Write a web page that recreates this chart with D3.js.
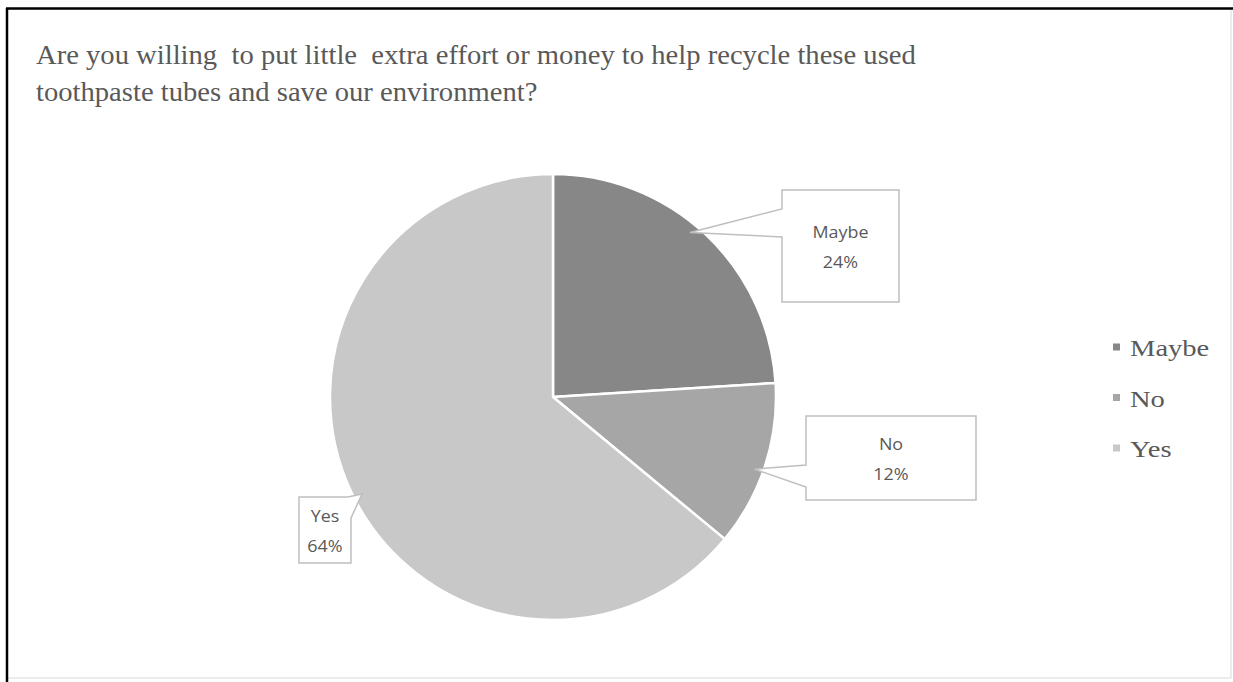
<!DOCTYPE html>
<html>
<head>
<meta charset="utf-8">
<script src="https://cdn.jsdelivr.net/npm/d3@7/dist/d3.min.js"></script>
<style>
  body { margin: 0; background: #fff; }
  svg { display: block; }
</style>
</head>
<body>
<div id="chart"></div>
<script>
(function(){
  'use strict';

  // data
  var categories = ['Maybe', 'No', 'Yes'];
  var values = [24, 12, 64];
  var colors = ['#878787', '#a6a6a6', '#c8c8c8'];
  var titleLines = [
    'Are you willing  to put little  extra effort or money to help recycle these used',
    'toothpaste tubes and save our environment?'
  ];

  var W = 1233, H = 682,
      cx = 553, cy = 397, r = 223,
      stretch = 1.19;   // the source text is drawn a bit wide

  var svg = d3.select('#chart').append('svg')
    .attr('width', W)
    .attr('height', H);

  // frame
  svg.append('rect')
    .attr('x', 7).attr('y', 9)
    .attr('width', 1224).attr('height', 669)
    .style('fill', '#fff')
    .style('stroke', '#d9d9d9')
    .style('stroke-width', 1);
  svg.append('line')
    .attr('x1', 6).attr('y1', 8.5).attr('x2', W).attr('y2', 8.5)
    .style('stroke', '#000').style('stroke-width', 2.5);
  svg.append('line')
    .attr('x1', 7).attr('y1', 8).attr('x2', 7).attr('y2', H)
    .style('stroke', '#000').style('stroke-width', 2.5);

  // title
  svg.append('g').selectAll('text')
    .data(titleLines)
    .enter()
    .append('text')
    .attr('transform', function(d, i) { return 'translate(36,' + (64 + i * 37) + ') scale(1.06,1)'; })
    .style('font-family', '"Liberation Serif", "Times New Roman", serif')
    .style('font-size', '27px')
    .style('fill', '#595959')
    .style('white-space', 'pre')
    .text(function(d) { return d; });

  var data = categories.map(function(c, i) { return {name: c, value: values[i], color: colors[i]}; });

  var pie = d3.pie()
    .sort(null)
    .value(function(d) { return d.value; });

  var arc = d3.arc().innerRadius(0).outerRadius(r);
  var tipArc = d3.arc().innerRadius(r * 0.96).outerRadius(r * 0.96);

  var arcs = pie(data);

  var g = svg.append('g')
    .attr('transform', 'translate(' + cx + ',' + cy + ')');

  g.selectAll('.slice')
    .data(arcs)
    .enter()
    .append('path')
    .attr('class', 'slice')
    .attr('d', arc)
    .style('fill', function(d) { return d.data.color; })
    .style('stroke', '#fff')
    .style('stroke-width', 2.5)
    .style('stroke-linejoin', 'round');

  // callout boxes, relative to pie centre
  var boxes = {
    'Maybe': {x: 229, y: -207, w: 117, h: 112, side: 'left', n0: 19, n1: 47, turn: -0.06},
    'No':    {x: 253, y: 19,   w: 170, h: 84,  side: 'left', n0: 49, n1: 71, turn: 0.03},
    'Yes':   {x: -254, y: 100, w: 52,  h: 66,  side: 'topright', n0: 49, n1: 21, turn: -0.03}
  };

  function tipPoint(d) {
    var b = boxes[d.data.name],
        a = (d.startAngle + d.endAngle) / 2 + b.turn;
    return tipArc.centroid({startAngle: a, endAngle: a});
  }

  function calloutPath(b, tip) {
    var x0 = b.x, y0 = b.y, x1 = b.x + b.w, y1 = b.y + b.h;
    var t = tip[0] + ',' + tip[1];
    if (b.side === 'left') {
      return 'M' + x0 + ',' + y0 + 'H' + x1 + 'V' + y1 + 'H' + x0 +
        'V' + (y0 + b.n1) + 'L' + t + 'L' + x0 + ',' + (y0 + b.n0) + 'Z';
    }
    return 'M' + x0 + ',' + y0 + 'H' + (x0 + b.n0) + 'L' + t +
      'L' + x1 + ',' + (y0 + b.n1) + 'V' + y1 + 'H' + x0 + 'Z';
  }

  var labels = g.selectAll('.callout')
    .data(arcs)
    .enter()
    .append('g')
    .attr('class', 'callout');

  labels.append('path')
    .attr('d', function(d) { return calloutPath(boxes[d.data.name], tipPoint(d)); })
    .style('fill', '#fff')
    .style('stroke', '#bfbfbf')
    .style('stroke-width', 1.5);

  var total = d3.sum(values);

  labels.each(function(d) {
    var b = boxes[d.data.name],
        mx = b.x + b.w / 2,
        my = b.y + b.h / 2;
    var t = d3.select(this).append('text')
      .attr('transform', 'translate(' + mx + ',' + my + ') scale(1.12,1)')
      .attr('text-anchor', 'middle')
      .style('font-family', '"Open Sans", Calibri, sans-serif')
      .style('font-size', '16px')
      .style('fill', '#595959');
    t.append('tspan').attr('x', 0).attr('y', -8).text(d.data.name);
    t.append('tspan').attr('x', 0).attr('y', 22)
      .text(Math.round(d.data.value / total * 100) + '%');
  });

  // legend
  var legend = svg.append('g')
    .attr('transform', 'translate(1113, 347)');

  var items = legend.selectAll('.item')
    .data(data)
    .enter()
    .append('g')
    .attr('class', 'item')
    .attr('transform', function(d, i) { return 'translate(0,' + (i * 50.5) + ')'; });

  items.append('rect')
    .attr('x', 0).attr('y', -3.5)
    .attr('width', 7).attr('height', 7)
    .style('fill', function(d) { return d.color; });

  items.append('text')
    .attr('transform', 'translate(17,9) scale(' + stretch + ',1)')
    .style('font-family', '"Liberation Serif", "Times New Roman", serif')
    .style('font-size', '24px')
    .style('fill', '#595959')
    .text(function(d) { return d.name; });

}());
</script>
</body>
</html>
